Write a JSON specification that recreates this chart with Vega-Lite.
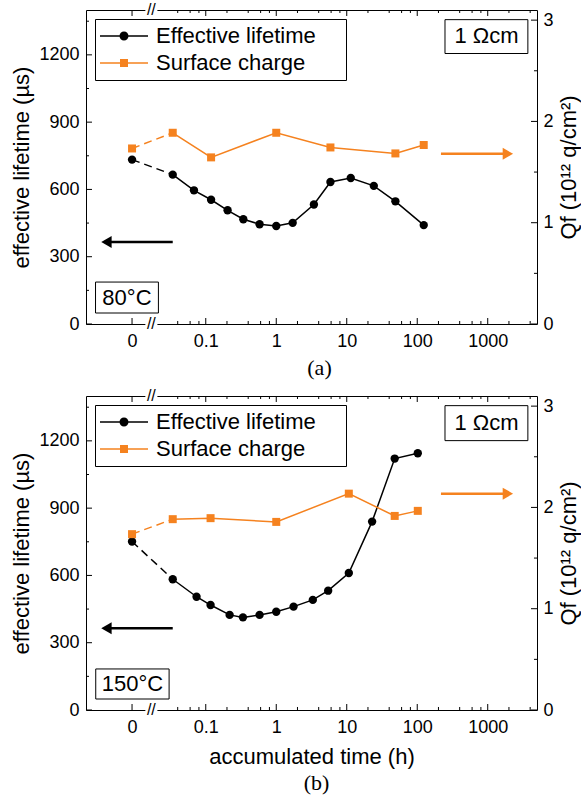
{
  "$schema": "https://vega.github.io/schema/vega-lite/v6.json",
  "padding": {"left": 10, "top": 1, "right": 2, "bottom": 2},
  "datasets": {
    "main": [
      {"panel": "a", "series": "Effective lifetime", "time_h": 0.009, "value": 733},
      {"panel": "a", "series": "Effective lifetime", "time_h": 0.034, "value": 666},
      {"panel": "a", "series": "Effective lifetime", "time_h": 0.068, "value": 596},
      {"panel": "a", "series": "Effective lifetime", "time_h": 0.119, "value": 554},
      {"panel": "a", "series": "Effective lifetime", "time_h": 0.204, "value": 507},
      {"panel": "a", "series": "Effective lifetime", "time_h": 0.341, "value": 467},
      {"panel": "a", "series": "Effective lifetime", "time_h": 0.58, "value": 445},
      {"panel": "a", "series": "Effective lifetime", "time_h": 1.0, "value": 437},
      {"panel": "a", "series": "Effective lifetime", "time_h": 1.71, "value": 451},
      {"panel": "a", "series": "Effective lifetime", "time_h": 3.42, "value": 533},
      {"panel": "a", "series": "Effective lifetime", "time_h": 5.87, "value": 633},
      {"panel": "a", "series": "Effective lifetime", "time_h": 11.4, "value": 651},
      {"panel": "a", "series": "Effective lifetime", "time_h": 24.2, "value": 616},
      {"panel": "a", "series": "Effective lifetime", "time_h": 49, "value": 547},
      {"panel": "a", "series": "Effective lifetime", "time_h": 123.6, "value": 441},
      {"panel": "a", "series": "Surface charge", "time_h": 0.009, "value": 1.733},
      {"panel": "a", "series": "Surface charge", "time_h": 0.034, "value": 1.888},
      {"panel": "a", "series": "Surface charge", "time_h": 0.119, "value": 1.645},
      {"panel": "a", "series": "Surface charge", "time_h": 1.0, "value": 1.888},
      {"panel": "a", "series": "Surface charge", "time_h": 5.87, "value": 1.743},
      {"panel": "a", "series": "Surface charge", "time_h": 49, "value": 1.684},
      {"panel": "a", "series": "Surface charge", "time_h": 123.6, "value": 1.767},
      {"panel": "b", "series": "Effective lifetime", "time_h": 0.009, "value": 751},
      {"panel": "b", "series": "Effective lifetime", "time_h": 0.034, "value": 583},
      {"panel": "b", "series": "Effective lifetime", "time_h": 0.074, "value": 505},
      {"panel": "b", "series": "Effective lifetime", "time_h": 0.117, "value": 468},
      {"panel": "b", "series": "Effective lifetime", "time_h": 0.218, "value": 424},
      {"panel": "b", "series": "Effective lifetime", "time_h": 0.337, "value": 413},
      {"panel": "b", "series": "Effective lifetime", "time_h": 0.58, "value": 424},
      {"panel": "b", "series": "Effective lifetime", "time_h": 1.0, "value": 438},
      {"panel": "b", "series": "Effective lifetime", "time_h": 1.76, "value": 461},
      {"panel": "b", "series": "Effective lifetime", "time_h": 3.3, "value": 491},
      {"panel": "b", "series": "Effective lifetime", "time_h": 5.45, "value": 532},
      {"panel": "b", "series": "Effective lifetime", "time_h": 10.7, "value": 611},
      {"panel": "b", "series": "Effective lifetime", "time_h": 22.9, "value": 840},
      {"panel": "b", "series": "Effective lifetime", "time_h": 47.9, "value": 1121},
      {"panel": "b", "series": "Effective lifetime", "time_h": 101.8, "value": 1145},
      {"panel": "b", "series": "Surface charge", "time_h": 0.009, "value": 1.736},
      {"panel": "b", "series": "Surface charge", "time_h": 0.034, "value": 1.884},
      {"panel": "b", "series": "Surface charge", "time_h": 0.117, "value": 1.894},
      {"panel": "b", "series": "Surface charge", "time_h": 1.0, "value": 1.857},
      {"panel": "b", "series": "Surface charge", "time_h": 10.7, "value": 2.136},
      {"panel": "b", "series": "Surface charge", "time_h": 47.9, "value": 1.916},
      {"panel": "b", "series": "Surface charge", "time_h": 101.8, "value": 1.966}
    ],
    "notes": [
      {"panel": "a", "kind": "resistivity", "text": "1 Ωcm"},
      {"panel": "a", "kind": "temperature", "text": "80°C"},
      {"panel": "a", "kind": "break", "text": "//"},
      {"panel": "a", "kind": "lifetime axis", "text": "left axis"},
      {"panel": "a", "kind": "charge axis", "text": "right axis"},
      {"panel": "b", "kind": "resistivity", "text": "1 Ωcm"},
      {"panel": "b", "kind": "temperature", "text": "150°C"},
      {"panel": "b", "kind": "break", "text": "//"},
      {"panel": "b", "kind": "lifetime axis", "text": "left axis"},
      {"panel": "b", "kind": "charge axis", "text": "right axis"}
    ],
    "tickmarks": [
      {"scale_of": "time", "size": "major", "pos": 0.009},
      {"scale_of": "time", "size": "major", "pos": 0.1},
      {"scale_of": "time", "size": "major", "pos": 1},
      {"scale_of": "time", "size": "major", "pos": 10},
      {"scale_of": "time", "size": "major", "pos": 100},
      {"scale_of": "time", "size": "major", "pos": 1000},
      {"scale_of": "time", "size": "minor", "pos": 0.04},
      {"scale_of": "time", "size": "minor", "pos": 0.06},
      {"scale_of": "time", "size": "minor", "pos": 0.08},
      {"scale_of": "time", "size": "minor", "pos": 0.2},
      {"scale_of": "time", "size": "minor", "pos": 0.4},
      {"scale_of": "time", "size": "minor", "pos": 0.6},
      {"scale_of": "time", "size": "minor", "pos": 0.8},
      {"scale_of": "time", "size": "minor", "pos": 2},
      {"scale_of": "time", "size": "minor", "pos": 4},
      {"scale_of": "time", "size": "minor", "pos": 6},
      {"scale_of": "time", "size": "minor", "pos": 8},
      {"scale_of": "time", "size": "minor", "pos": 20},
      {"scale_of": "time", "size": "minor", "pos": 40},
      {"scale_of": "time", "size": "minor", "pos": 60},
      {"scale_of": "time", "size": "minor", "pos": 80},
      {"scale_of": "time", "size": "minor", "pos": 200},
      {"scale_of": "time", "size": "minor", "pos": 400},
      {"scale_of": "time", "size": "minor", "pos": 600},
      {"scale_of": "time", "size": "minor", "pos": 800},
      {"scale_of": "time", "size": "minor", "pos": 2000},
      {"scale_of": "time", "size": "minor", "pos": 4000},
      {"scale_of": "lifetime", "size": "major", "pos": 0},
      {"scale_of": "lifetime", "size": "major", "pos": 300},
      {"scale_of": "lifetime", "size": "major", "pos": 600},
      {"scale_of": "lifetime", "size": "major", "pos": 900},
      {"scale_of": "lifetime", "size": "major", "pos": 1200},
      {"scale_of": "lifetime", "size": "minor", "pos": 150},
      {"scale_of": "lifetime", "size": "minor", "pos": 450},
      {"scale_of": "lifetime", "size": "minor", "pos": 750},
      {"scale_of": "lifetime", "size": "minor", "pos": 1050},
      {"scale_of": "lifetime", "size": "minor", "pos": 1350},
      {"scale_of": "charge", "size": "major", "pos": 0},
      {"scale_of": "charge", "size": "major", "pos": 1},
      {"scale_of": "charge", "size": "major", "pos": 2},
      {"scale_of": "charge", "size": "major", "pos": 3},
      {"scale_of": "charge", "size": "minor", "pos": 0.5},
      {"scale_of": "charge", "size": "minor", "pos": 1.5},
      {"scale_of": "charge", "size": "minor", "pos": 2.5}
    ]
  },
  "data": {"name": "main"},
  "spacing": 7,
  "resolve": {"scale": {"color": "independent", "shape": "independent"}},
  "vconcat": [
    {
      "width": 451,
      "height": 314,
      "title": {"text": "(a)", "orient": "bottom", "anchor": "middle", "frame": "group", "font": "Liberation Serif", "fontSize": 22, "fontWeight": "normal", "color": "black", "offset": 8, "dx": 8},
      "resolve": {"scale": {"y": "independent"}, "axis": {"x": "independent"}},
      "layer": [
        {"transform": [{"filter": "datum.panel == 'a' && datum.series == 'Effective lifetime' && datum.time_h <= 0.034"}],
          "mark": {"type": "line", "color": "black", "strokeWidth": 1.5, "strokeDash": [8, 5]},
          "encoding": {
            "x": {"field": "time_h", "type": "quantitative", "scale": {"type": "log", "domain": [0.002, 5000], "nice": false}, "axis": null},
            "y": {"field": "value", "type": "quantitative", "scale": {"domain": [0, 1400], "nice": false}, "axis": null}}},
        {"transform": [{"filter": "datum.panel == 'a' && datum.series == 'Effective lifetime' && datum.time_h >= 0.034"}],
          "mark": {"type": "line", "color": "black", "strokeWidth": 1.5},
          "encoding": {
            "x": {"field": "time_h", "type": "quantitative", "scale": {"type": "log", "domain": [0.002, 5000], "nice": false}, "axis": null},
            "y": {"field": "value", "type": "quantitative", "scale": {"domain": [0, 1400], "nice": false}, "axis": null}}},
        {"transform": [{"filter": "datum.panel == 'a' && datum.series == 'Effective lifetime'"}],
          "mark": {"type": "point", "shape": "circle", "filled": true, "color": "black", "size": 70, "opacity": 1},
          "encoding": {
            "x": {"field": "time_h", "type": "quantitative", "scale": {"type": "log", "domain": [0.002, 5000], "nice": false},
              "axis": {"orient": "bottom", "title": null, "domain": false, "ticks": false, "labelPadding": 8,
                "values": [0.009, 0.1, 1, 10, 100, 1000],
                "labelExpr": "datum.value == 0.009 ? '0' : '' + datum.value"}},
            "y": {"field": "value", "type": "quantitative", "scale": {"domain": [0, 1400], "nice": false},
              "axis": {"orient": "left", "title": "effective lifetime (µs)", "domain": false, "ticks": false, "labelPadding": 7, "titlePadding": 5,
                "values": [0, 300, 600, 900, 1200],
                "labelExpr": "'' + datum.value"}}}},
        {"transform": [{"filter": "datum.panel == 'a' && datum.series == 'Surface charge' && datum.time_h <= 0.034"}],
          "mark": {"type": "line", "color": "#F5821F", "strokeWidth": 1.5, "strokeDash": [8, 5]},
          "encoding": {
            "x": {"field": "time_h", "type": "quantitative", "scale": {"type": "log", "domain": [0.002, 5000], "nice": false}, "axis": null},
            "y": {"field": "value", "type": "quantitative", "scale": {"domain": [0, 3.1], "nice": false}, "axis": null}}},
        {"transform": [{"filter": "datum.panel == 'a' && datum.series == 'Surface charge' && datum.time_h >= 0.034"}],
          "mark": {"type": "line", "color": "#F5821F", "strokeWidth": 1.5},
          "encoding": {
            "x": {"field": "time_h", "type": "quantitative", "scale": {"type": "log", "domain": [0.002, 5000], "nice": false}, "axis": null},
            "y": {"field": "value", "type": "quantitative", "scale": {"domain": [0, 3.1], "nice": false}, "axis": null}}},
        {"transform": [{"filter": "datum.panel == 'a' && datum.series == 'Surface charge'"}],
          "mark": {"type": "point", "shape": "square", "filled": true, "color": "#F5821F", "size": 64, "opacity": 1},
          "encoding": {
            "x": {"field": "time_h", "type": "quantitative", "scale": {"type": "log", "domain": [0.002, 5000], "nice": false}, "axis": null},
            "y": {"field": "value", "type": "quantitative", "scale": {"domain": [0, 3.1], "nice": false},
              "axis": {"orient": "right", "title": "Qf (10¹² q/cm²)", "titleAngle": 270, "titleBaseline": "top", "domain": false, "ticks": false, "labelPadding": 6, "titlePadding": 5,
                "values": [0, 1, 2, 3],
                "labelExpr": "'' + datum.value"}}}},
        {"transform": [{"filter": "false"}],
          "mark": {"type": "point", "filled": true, "opacity": 1},
          "encoding": {
            "x": {"field": "time_h", "type": "quantitative", "scale": {"type": "log", "domain": [0.002, 5000], "nice": false}, "axis": null},
            "y": {"field": "value", "type": "quantitative", "scale": {"domain": [0, 1400], "nice": false}, "axis": null},
            "color": {"field": "series", "type": "nominal", "scale": {"domain": ["Effective lifetime", "Surface charge"], "range": ["black", "#F5821F"]},
              "legend": {"title": ".", "titleOrient": "right", "titleColor": "white", "titleFontSize": 2, "titlePadding": 23}},
            "shape": {"field": "series", "type": "nominal", "scale": {"domain": ["Effective lifetime", "Surface charge"], "range": [
              "M-4.8,-0.15L-0.85,-0.15L-0.85,0.15L-4.8,0.15Z M0.85,-0.15L4.8,-0.15L4.8,0.15L0.85,0.15Z M-0.9,0A0.9,0.9,0,1,1,0.9,0A0.9,0.9,0,1,1,-0.9,0Z",
              "M-4.8,-0.15L-0.8,-0.15L-0.8,0.15L-4.8,0.15Z M0.8,-0.15L4.8,-0.15L4.8,0.15L0.8,0.15Z M-0.8,-0.8L0.8,-0.8L0.8,0.8L-0.8,0.8Z"]},
              "legend": {"title": ".", "titleOrient": "right", "titleColor": "white", "titleFontSize": 2, "titlePadding": 23}}}},
        {"data": {"name": "notes"}, "transform": [{"filter": "datum.panel == 'a' && datum.kind == 'break'"}],
          "mark": {"type": "rect", "color": "white"},
          "encoding": {
            "x": {"datum": 0.0139, "type": "quantitative", "scale": {"type": "log", "domain": [0.002, 5000], "nice": false}, "axis": null}, "x2": {"datum": 0.0206},
            "y": {"datum": -12, "type": "quantitative", "scale": {"domain": [0, 1400], "nice": false}, "axis": null}, "y2": {"datum": 12}}},
        {"data": {"name": "notes"}, "transform": [{"filter": "datum.panel == 'a' && datum.kind == 'break'"}],
          "mark": {"type": "rect", "color": "white"},
          "encoding": {
            "x": {"datum": 0.0139, "type": "quantitative", "scale": {"type": "log", "domain": [0.002, 5000], "nice": false}, "axis": null}, "x2": {"datum": 0.0206},
            "y": {"datum": 1388, "type": "quantitative", "scale": {"domain": [0, 1400], "nice": false}, "axis": null}, "y2": {"datum": 1412}}},
        {"data": {"name": "notes"}, "transform": [{"filter": "datum.panel == 'a' && datum.kind == 'break'"}],
          "mark": {"type": "text", "fontSize": 16, "align": "center", "baseline": "middle"},
          "encoding": {
            "x": {"datum": 0.0169, "type": "quantitative", "scale": {"type": "log", "domain": [0.002, 5000], "nice": false}, "axis": null},
            "y": {"datum": 0, "type": "quantitative", "scale": {"domain": [0, 1400], "nice": false}, "axis": null},
            "text": {"field": "text", "type": "nominal"}}},
        {"data": {"name": "notes"}, "transform": [{"filter": "datum.panel == 'a' && datum.kind == 'break'"}],
          "mark": {"type": "text", "fontSize": 16, "align": "center", "baseline": "middle"},
          "encoding": {
            "x": {"datum": 0.0169, "type": "quantitative", "scale": {"type": "log", "domain": [0.002, 5000], "nice": false}, "axis": null},
            "y": {"datum": 1400, "type": "quantitative", "scale": {"domain": [0, 1400], "nice": false}, "axis": null},
            "text": {"field": "text", "type": "nominal"}}},
        {"data": {"name": "notes"}, "transform": [{"filter": "datum.panel == 'a' && datum.kind == 'resistivity'"}],
          "mark": {"type": "rect", "fill": "white", "stroke": "black", "strokeWidth": 1},
          "encoding": {
            "x": {"datum": 247.6, "type": "quantitative", "scale": {"type": "log", "domain": [0.002, 5000], "nice": false}, "axis": null}, "x2": {"datum": 3710},
            "y": {"datum": 1206, "type": "quantitative", "scale": {"domain": [0, 1400], "nice": false}, "axis": null}, "y2": {"datum": 1357}}},
        {"data": {"name": "notes"}, "transform": [{"filter": "datum.panel == 'a' && datum.kind == 'resistivity'"}],
          "mark": {"type": "text", "fontSize": 22, "align": "center", "baseline": "middle"},
          "encoding": {
            "x": {"datum": 959, "type": "quantitative", "scale": {"type": "log", "domain": [0.002, 5000], "nice": false}, "axis": null},
            "y": {"datum": 1282, "type": "quantitative", "scale": {"domain": [0, 1400], "nice": false}, "axis": null},
            "text": {"field": "text", "type": "nominal"}}},
        {"data": {"name": "notes"}, "transform": [{"filter": "datum.panel == 'a' && datum.kind == 'temperature'"}],
          "mark": {"type": "rect", "fill": "white", "stroke": "black", "strokeWidth": 1},
          "encoding": {
            "x": {"datum": 0.00273, "type": "quantitative", "scale": {"type": "log", "domain": [0.002, 5000], "nice": false}, "axis": null}, "x2": {"datum": 0.0213},
            "y": {"datum": 49, "type": "quantitative", "scale": {"domain": [0, 1400], "nice": false}, "axis": null}, "y2": {"datum": 187}}},
        {"data": {"name": "notes"}, "transform": [{"filter": "datum.panel == 'a' && datum.kind == 'temperature'"}],
          "mark": {"type": "text", "fontSize": 22, "align": "center", "baseline": "middle"},
          "encoding": {
            "x": {"datum": 0.00762, "type": "quantitative", "scale": {"type": "log", "domain": [0.002, 5000], "nice": false}, "axis": null},
            "y": {"datum": 118, "type": "quantitative", "scale": {"domain": [0, 1400], "nice": false}, "axis": null},
            "text": {"field": "text", "type": "nominal"}}},
        {"data": {"name": "notes"}, "transform": [{"filter": "datum.panel == 'a' && datum.kind == 'lifetime axis'"}],
          "mark": {"type": "rule", "color": "black", "strokeWidth": 2.5},
          "encoding": {
            "x": {"datum": 0.0045, "type": "quantitative", "scale": {"type": "log", "domain": [0.002, 5000], "nice": false}, "axis": null}, "x2": {"datum": 0.034},
            "y": {"datum": 366, "type": "quantitative", "scale": {"domain": [0, 1400], "nice": false}, "axis": null}}},
        {"data": {"name": "notes"}, "transform": [{"filter": "datum.panel == 'a' && datum.kind == 'lifetime axis'"}],
          "mark": {"type": "point", "shape": "triangle-left", "filled": true, "color": "black", "size": 144, "opacity": 1},
          "encoding": {
            "x": {"datum": 0.0039, "type": "quantitative", "scale": {"type": "log", "domain": [0.002, 5000], "nice": false}, "axis": null},
            "y": {"datum": 366, "type": "quantitative", "scale": {"domain": [0, 1400], "nice": false}, "axis": null}}},
        {"data": {"name": "notes"}, "transform": [{"filter": "datum.panel == 'a' && datum.kind == 'charge axis'"}],
          "mark": {"type": "rule", "color": "#F5821F", "strokeWidth": 2.5},
          "encoding": {
            "x": {"datum": 217, "type": "quantitative", "scale": {"type": "log", "domain": [0.002, 5000], "nice": false}, "axis": null}, "x2": {"datum": 1760},
            "y": {"datum": 1.68, "type": "quantitative", "scale": {"domain": [0, 3.1], "nice": false}, "axis": null}}},
        {"data": {"name": "notes"}, "transform": [{"filter": "datum.panel == 'a' && datum.kind == 'charge axis'"}],
          "mark": {"type": "point", "shape": "triangle-right", "filled": true, "color": "#F5821F", "size": 144, "opacity": 1},
          "encoding": {
            "x": {"datum": 1932, "type": "quantitative", "scale": {"type": "log", "domain": [0.002, 5000], "nice": false}, "axis": null},
            "y": {"datum": 1.68, "type": "quantitative", "scale": {"domain": [0, 3.1], "nice": false}, "axis": null}}},
        {"data": {"name": "tickmarks"}, "transform": [{"filter": "datum.scale_of == 'time' && datum.size == 'major'"}],
          "mark": {"type": "rule", "color": "black", "strokeWidth": 1},
          "encoding": {
            "x": {"field": "pos", "type": "quantitative", "scale": {"type": "log", "domain": [0.002, 5000], "nice": false}, "axis": null},
            "y": {"datum": 0, "type": "quantitative", "scale": {"domain": [0, 1400], "nice": false}, "axis": null}, "y2": {"datum": 26.7}}},
        {"data": {"name": "tickmarks"}, "transform": [{"filter": "datum.scale_of == 'time' && datum.size == 'minor'"}],
          "mark": {"type": "rule", "color": "black", "strokeWidth": 1},
          "encoding": {
            "x": {"field": "pos", "type": "quantitative", "scale": {"type": "log", "domain": [0.002, 5000], "nice": false}, "axis": null},
            "y": {"datum": 0, "type": "quantitative", "scale": {"domain": [0, 1400], "nice": false}, "axis": null}, "y2": {"datum": 13.4}}},
        {"data": {"name": "tickmarks"}, "transform": [{"filter": "datum.scale_of == 'time' && datum.size == 'major'"}],
          "mark": {"type": "rule", "color": "black", "strokeWidth": 1},
          "encoding": {
            "x": {"field": "pos", "type": "quantitative", "scale": {"type": "log", "domain": [0.002, 5000], "nice": false}, "axis": null},
            "y": {"datum": 1400, "type": "quantitative", "scale": {"domain": [0, 1400], "nice": false}, "axis": null}, "y2": {"datum": 1373.3}}},
        {"data": {"name": "tickmarks"}, "transform": [{"filter": "datum.scale_of == 'time' && datum.size == 'minor'"}],
          "mark": {"type": "rule", "color": "black", "strokeWidth": 1},
          "encoding": {
            "x": {"field": "pos", "type": "quantitative", "scale": {"type": "log", "domain": [0.002, 5000], "nice": false}, "axis": null},
            "y": {"datum": 1400, "type": "quantitative", "scale": {"domain": [0, 1400], "nice": false}, "axis": null}, "y2": {"datum": 1386.6}}},
        {"data": {"name": "tickmarks"}, "transform": [{"filter": "datum.scale_of == 'lifetime' && datum.size == 'major'"}],
          "mark": {"type": "rule", "color": "black", "strokeWidth": 1},
          "encoding": {
            "y": {"field": "pos", "type": "quantitative", "scale": {"domain": [0, 1400], "nice": false}, "axis": null},
            "x": {"datum": 0.002, "type": "quantitative", "scale": {"type": "log", "domain": [0.002, 5000], "nice": false}, "axis": null}, "x2": {"datum": 0.002433}}},
        {"data": {"name": "tickmarks"}, "transform": [{"filter": "datum.scale_of == 'lifetime' && datum.size == 'minor'"}],
          "mark": {"type": "rule", "color": "black", "strokeWidth": 1},
          "encoding": {
            "y": {"field": "pos", "type": "quantitative", "scale": {"domain": [0, 1400], "nice": false}, "axis": null},
            "x": {"datum": 0.002, "type": "quantitative", "scale": {"type": "log", "domain": [0.002, 5000], "nice": false}, "axis": null}, "x2": {"datum": 0.002206}}},
        {"data": {"name": "tickmarks"}, "transform": [{"filter": "datum.scale_of == 'charge' && datum.size == 'major'"}],
          "mark": {"type": "rule", "color": "black", "strokeWidth": 1},
          "encoding": {
            "y": {"field": "pos", "type": "quantitative", "scale": {"domain": [0, 3.1], "nice": false}, "axis": null},
            "x": {"datum": 5000, "type": "quantitative", "scale": {"type": "log", "domain": [0.002, 5000], "nice": false}, "axis": null}, "x2": {"datum": 4111}}},
        {"data": {"name": "tickmarks"}, "transform": [{"filter": "datum.scale_of == 'charge' && datum.size == 'minor'"}],
          "mark": {"type": "rule", "color": "black", "strokeWidth": 1},
          "encoding": {
            "y": {"field": "pos", "type": "quantitative", "scale": {"domain": [0, 3.1], "nice": false}, "axis": null},
            "x": {"datum": 5000, "type": "quantitative", "scale": {"type": "log", "domain": [0.002, 5000], "nice": false}, "axis": null}, "x2": {"datum": 4533}}}
      ]
    },
    {
      "width": 451,
      "height": 314,
      "title": {"text": "(b)", "orient": "bottom", "anchor": "middle", "frame": "group", "font": "Liberation Serif", "fontSize": 22, "fontWeight": "normal", "color": "black", "offset": 6, "dx": 5},
      "resolve": {"scale": {"y": "independent"}, "axis": {"x": "independent"}},
      "layer": [
        {"transform": [{"filter": "datum.panel == 'b' && datum.series == 'Effective lifetime' && datum.time_h <= 0.034"}],
          "mark": {"type": "line", "color": "black", "strokeWidth": 1.5, "strokeDash": [8, 5]},
          "encoding": {
            "x": {"field": "time_h", "type": "quantitative", "scale": {"type": "log", "domain": [0.002, 5000], "nice": false}, "axis": null},
            "y": {"field": "value", "type": "quantitative", "scale": {"domain": [0, 1400], "nice": false}, "axis": null}}},
        {"transform": [{"filter": "datum.panel == 'b' && datum.series == 'Effective lifetime' && datum.time_h >= 0.034"}],
          "mark": {"type": "line", "color": "black", "strokeWidth": 1.5},
          "encoding": {
            "x": {"field": "time_h", "type": "quantitative", "scale": {"type": "log", "domain": [0.002, 5000], "nice": false}, "axis": null},
            "y": {"field": "value", "type": "quantitative", "scale": {"domain": [0, 1400], "nice": false}, "axis": null}}},
        {"transform": [{"filter": "datum.panel == 'b' && datum.series == 'Effective lifetime'"}],
          "mark": {"type": "point", "shape": "circle", "filled": true, "color": "black", "size": 70, "opacity": 1},
          "encoding": {
            "x": {"field": "time_h", "type": "quantitative", "scale": {"type": "log", "domain": [0.002, 5000], "nice": false},
              "axis": {"orient": "bottom", "title": "accumulated time (h)", "titlePadding": 10, "domain": false, "ticks": false, "labelPadding": 8,
                "values": [0.009, 0.1, 1, 10, 100, 1000],
                "labelExpr": "datum.value == 0.009 ? '0' : '' + datum.value"}},
            "y": {"field": "value", "type": "quantitative", "scale": {"domain": [0, 1400], "nice": false},
              "axis": {"orient": "left", "title": "effective lifetime (µs)", "domain": false, "ticks": false, "labelPadding": 7, "titlePadding": 5,
                "values": [0, 300, 600, 900, 1200],
                "labelExpr": "'' + datum.value"}}}},
        {"transform": [{"filter": "datum.panel == 'b' && datum.series == 'Surface charge' && datum.time_h <= 0.034"}],
          "mark": {"type": "line", "color": "#F5821F", "strokeWidth": 1.5, "strokeDash": [8, 5]},
          "encoding": {
            "x": {"field": "time_h", "type": "quantitative", "scale": {"type": "log", "domain": [0.002, 5000], "nice": false}, "axis": null},
            "y": {"field": "value", "type": "quantitative", "scale": {"domain": [0, 3.1], "nice": false}, "axis": null}}},
        {"transform": [{"filter": "datum.panel == 'b' && datum.series == 'Surface charge' && datum.time_h >= 0.034"}],
          "mark": {"type": "line", "color": "#F5821F", "strokeWidth": 1.5},
          "encoding": {
            "x": {"field": "time_h", "type": "quantitative", "scale": {"type": "log", "domain": [0.002, 5000], "nice": false}, "axis": null},
            "y": {"field": "value", "type": "quantitative", "scale": {"domain": [0, 3.1], "nice": false}, "axis": null}}},
        {"transform": [{"filter": "datum.panel == 'b' && datum.series == 'Surface charge'"}],
          "mark": {"type": "point", "shape": "square", "filled": true, "color": "#F5821F", "size": 64, "opacity": 1},
          "encoding": {
            "x": {"field": "time_h", "type": "quantitative", "scale": {"type": "log", "domain": [0.002, 5000], "nice": false}, "axis": null},
            "y": {"field": "value", "type": "quantitative", "scale": {"domain": [0, 3.1], "nice": false},
              "axis": {"orient": "right", "title": "Qf (10¹² q/cm²)", "titleAngle": 270, "titleBaseline": "top", "domain": false, "ticks": false, "labelPadding": 6, "titlePadding": 5,
                "values": [0, 1, 2, 3],
                "labelExpr": "'' + datum.value"}}}},
        {"transform": [{"filter": "false"}],
          "mark": {"type": "point", "filled": true, "opacity": 1},
          "encoding": {
            "x": {"field": "time_h", "type": "quantitative", "scale": {"type": "log", "domain": [0.002, 5000], "nice": false}, "axis": null},
            "y": {"field": "value", "type": "quantitative", "scale": {"domain": [0, 1400], "nice": false}, "axis": null},
            "color": {"field": "series", "type": "nominal", "scale": {"domain": ["Effective lifetime", "Surface charge"], "range": ["black", "#F5821F"]},
              "legend": {"title": ".", "titleOrient": "right", "titleColor": "white", "titleFontSize": 2, "titlePadding": 23}},
            "shape": {"field": "series", "type": "nominal", "scale": {"domain": ["Effective lifetime", "Surface charge"], "range": [
              "M-4.8,-0.15L-0.85,-0.15L-0.85,0.15L-4.8,0.15Z M0.85,-0.15L4.8,-0.15L4.8,0.15L0.85,0.15Z M-0.9,0A0.9,0.9,0,1,1,0.9,0A0.9,0.9,0,1,1,-0.9,0Z",
              "M-4.8,-0.15L-0.8,-0.15L-0.8,0.15L-4.8,0.15Z M0.8,-0.15L4.8,-0.15L4.8,0.15L0.8,0.15Z M-0.8,-0.8L0.8,-0.8L0.8,0.8L-0.8,0.8Z"]},
              "legend": {"title": ".", "titleOrient": "right", "titleColor": "white", "titleFontSize": 2, "titlePadding": 23}}}},
        {"data": {"name": "notes"}, "transform": [{"filter": "datum.panel == 'b' && datum.kind == 'break'"}],
          "mark": {"type": "rect", "color": "white"},
          "encoding": {
            "x": {"datum": 0.0139, "type": "quantitative", "scale": {"type": "log", "domain": [0.002, 5000], "nice": false}, "axis": null}, "x2": {"datum": 0.0206},
            "y": {"datum": -12, "type": "quantitative", "scale": {"domain": [0, 1400], "nice": false}, "axis": null}, "y2": {"datum": 12}}},
        {"data": {"name": "notes"}, "transform": [{"filter": "datum.panel == 'b' && datum.kind == 'break'"}],
          "mark": {"type": "rect", "color": "white"},
          "encoding": {
            "x": {"datum": 0.0139, "type": "quantitative", "scale": {"type": "log", "domain": [0.002, 5000], "nice": false}, "axis": null}, "x2": {"datum": 0.0206},
            "y": {"datum": 1388, "type": "quantitative", "scale": {"domain": [0, 1400], "nice": false}, "axis": null}, "y2": {"datum": 1412}}},
        {"data": {"name": "notes"}, "transform": [{"filter": "datum.panel == 'b' && datum.kind == 'break'"}],
          "mark": {"type": "text", "fontSize": 16, "align": "center", "baseline": "middle"},
          "encoding": {
            "x": {"datum": 0.0169, "type": "quantitative", "scale": {"type": "log", "domain": [0.002, 5000], "nice": false}, "axis": null},
            "y": {"datum": 0, "type": "quantitative", "scale": {"domain": [0, 1400], "nice": false}, "axis": null},
            "text": {"field": "text", "type": "nominal"}}},
        {"data": {"name": "notes"}, "transform": [{"filter": "datum.panel == 'b' && datum.kind == 'break'"}],
          "mark": {"type": "text", "fontSize": 16, "align": "center", "baseline": "middle"},
          "encoding": {
            "x": {"datum": 0.0169, "type": "quantitative", "scale": {"type": "log", "domain": [0.002, 5000], "nice": false}, "axis": null},
            "y": {"datum": 1400, "type": "quantitative", "scale": {"domain": [0, 1400], "nice": false}, "axis": null},
            "text": {"field": "text", "type": "nominal"}}},
        {"data": {"name": "notes"}, "transform": [{"filter": "datum.panel == 'b' && datum.kind == 'resistivity'"}],
          "mark": {"type": "rect", "fill": "white", "stroke": "black", "strokeWidth": 1},
          "encoding": {
            "x": {"datum": 247.6, "type": "quantitative", "scale": {"type": "log", "domain": [0.002, 5000], "nice": false}, "axis": null}, "x2": {"datum": 3710},
            "y": {"datum": 1201, "type": "quantitative", "scale": {"domain": [0, 1400], "nice": false}, "axis": null}, "y2": {"datum": 1357}}},
        {"data": {"name": "notes"}, "transform": [{"filter": "datum.panel == 'b' && datum.kind == 'resistivity'"}],
          "mark": {"type": "text", "fontSize": 22, "align": "center", "baseline": "middle"},
          "encoding": {
            "x": {"datum": 959, "type": "quantitative", "scale": {"type": "log", "domain": [0.002, 5000], "nice": false}, "axis": null},
            "y": {"datum": 1279, "type": "quantitative", "scale": {"domain": [0, 1400], "nice": false}, "axis": null},
            "text": {"field": "text", "type": "nominal"}}},
        {"data": {"name": "notes"}, "transform": [{"filter": "datum.panel == 'b' && datum.kind == 'temperature'"}],
          "mark": {"type": "rect", "fill": "white", "stroke": "black", "strokeWidth": 1},
          "encoding": {
            "x": {"datum": 0.00275, "type": "quantitative", "scale": {"type": "log", "domain": [0.002, 5000], "nice": false}, "axis": null}, "x2": {"datum": 0.0302},
            "y": {"datum": 49, "type": "quantitative", "scale": {"domain": [0, 1400], "nice": false}, "axis": null}, "y2": {"datum": 183}}},
        {"data": {"name": "notes"}, "transform": [{"filter": "datum.panel == 'b' && datum.kind == 'temperature'"}],
          "mark": {"type": "text", "fontSize": 22, "align": "center", "baseline": "middle"},
          "encoding": {
            "x": {"datum": 0.00912, "type": "quantitative", "scale": {"type": "log", "domain": [0.002, 5000], "nice": false}, "axis": null},
            "y": {"datum": 116, "type": "quantitative", "scale": {"domain": [0, 1400], "nice": false}, "axis": null},
            "text": {"field": "text", "type": "nominal"}}},
        {"data": {"name": "notes"}, "transform": [{"filter": "datum.panel == 'b' && datum.kind == 'lifetime axis'"}],
          "mark": {"type": "rule", "color": "black", "strokeWidth": 2.5},
          "encoding": {
            "x": {"datum": 0.0045, "type": "quantitative", "scale": {"type": "log", "domain": [0.002, 5000], "nice": false}, "axis": null}, "x2": {"datum": 0.034},
            "y": {"datum": 364, "type": "quantitative", "scale": {"domain": [0, 1400], "nice": false}, "axis": null}}},
        {"data": {"name": "notes"}, "transform": [{"filter": "datum.panel == 'b' && datum.kind == 'lifetime axis'"}],
          "mark": {"type": "point", "shape": "triangle-left", "filled": true, "color": "black", "size": 144, "opacity": 1},
          "encoding": {
            "x": {"datum": 0.0039, "type": "quantitative", "scale": {"type": "log", "domain": [0.002, 5000], "nice": false}, "axis": null},
            "y": {"datum": 364, "type": "quantitative", "scale": {"domain": [0, 1400], "nice": false}, "axis": null}}},
        {"data": {"name": "notes"}, "transform": [{"filter": "datum.panel == 'b' && datum.kind == 'charge axis'"}],
          "mark": {"type": "rule", "color": "#F5821F", "strokeWidth": 2.5},
          "encoding": {
            "x": {"datum": 217, "type": "quantitative", "scale": {"type": "log", "domain": [0.002, 5000], "nice": false}, "axis": null}, "x2": {"datum": 1760},
            "y": {"datum": 2.136, "type": "quantitative", "scale": {"domain": [0, 3.1], "nice": false}, "axis": null}}},
        {"data": {"name": "notes"}, "transform": [{"filter": "datum.panel == 'b' && datum.kind == 'charge axis'"}],
          "mark": {"type": "point", "shape": "triangle-right", "filled": true, "color": "#F5821F", "size": 144, "opacity": 1},
          "encoding": {
            "x": {"datum": 1932, "type": "quantitative", "scale": {"type": "log", "domain": [0.002, 5000], "nice": false}, "axis": null},
            "y": {"datum": 2.136, "type": "quantitative", "scale": {"domain": [0, 3.1], "nice": false}, "axis": null}}},
        {"data": {"name": "tickmarks"}, "transform": [{"filter": "datum.scale_of == 'time' && datum.size == 'major'"}],
          "mark": {"type": "rule", "color": "black", "strokeWidth": 1},
          "encoding": {
            "x": {"field": "pos", "type": "quantitative", "scale": {"type": "log", "domain": [0.002, 5000], "nice": false}, "axis": null},
            "y": {"datum": 0, "type": "quantitative", "scale": {"domain": [0, 1400], "nice": false}, "axis": null}, "y2": {"datum": 26.7}}},
        {"data": {"name": "tickmarks"}, "transform": [{"filter": "datum.scale_of == 'time' && datum.size == 'minor'"}],
          "mark": {"type": "rule", "color": "black", "strokeWidth": 1},
          "encoding": {
            "x": {"field": "pos", "type": "quantitative", "scale": {"type": "log", "domain": [0.002, 5000], "nice": false}, "axis": null},
            "y": {"datum": 0, "type": "quantitative", "scale": {"domain": [0, 1400], "nice": false}, "axis": null}, "y2": {"datum": 13.4}}},
        {"data": {"name": "tickmarks"}, "transform": [{"filter": "datum.scale_of == 'time' && datum.size == 'major'"}],
          "mark": {"type": "rule", "color": "black", "strokeWidth": 1},
          "encoding": {
            "x": {"field": "pos", "type": "quantitative", "scale": {"type": "log", "domain": [0.002, 5000], "nice": false}, "axis": null},
            "y": {"datum": 1400, "type": "quantitative", "scale": {"domain": [0, 1400], "nice": false}, "axis": null}, "y2": {"datum": 1373.3}}},
        {"data": {"name": "tickmarks"}, "transform": [{"filter": "datum.scale_of == 'time' && datum.size == 'minor'"}],
          "mark": {"type": "rule", "color": "black", "strokeWidth": 1},
          "encoding": {
            "x": {"field": "pos", "type": "quantitative", "scale": {"type": "log", "domain": [0.002, 5000], "nice": false}, "axis": null},
            "y": {"datum": 1400, "type": "quantitative", "scale": {"domain": [0, 1400], "nice": false}, "axis": null}, "y2": {"datum": 1386.6}}},
        {"data": {"name": "tickmarks"}, "transform": [{"filter": "datum.scale_of == 'lifetime' && datum.size == 'major'"}],
          "mark": {"type": "rule", "color": "black", "strokeWidth": 1},
          "encoding": {
            "y": {"field": "pos", "type": "quantitative", "scale": {"domain": [0, 1400], "nice": false}, "axis": null},
            "x": {"datum": 0.002, "type": "quantitative", "scale": {"type": "log", "domain": [0.002, 5000], "nice": false}, "axis": null}, "x2": {"datum": 0.002433}}},
        {"data": {"name": "tickmarks"}, "transform": [{"filter": "datum.scale_of == 'lifetime' && datum.size == 'minor'"}],
          "mark": {"type": "rule", "color": "black", "strokeWidth": 1},
          "encoding": {
            "y": {"field": "pos", "type": "quantitative", "scale": {"domain": [0, 1400], "nice": false}, "axis": null},
            "x": {"datum": 0.002, "type": "quantitative", "scale": {"type": "log", "domain": [0.002, 5000], "nice": false}, "axis": null}, "x2": {"datum": 0.002206}}},
        {"data": {"name": "tickmarks"}, "transform": [{"filter": "datum.scale_of == 'charge' && datum.size == 'major'"}],
          "mark": {"type": "rule", "color": "black", "strokeWidth": 1},
          "encoding": {
            "y": {"field": "pos", "type": "quantitative", "scale": {"domain": [0, 3.1], "nice": false}, "axis": null},
            "x": {"datum": 5000, "type": "quantitative", "scale": {"type": "log", "domain": [0.002, 5000], "nice": false}, "axis": null}, "x2": {"datum": 4111}}},
        {"data": {"name": "tickmarks"}, "transform": [{"filter": "datum.scale_of == 'charge' && datum.size == 'minor'"}],
          "mark": {"type": "rule", "color": "black", "strokeWidth": 1},
          "encoding": {
            "y": {"field": "pos", "type": "quantitative", "scale": {"domain": [0, 3.1], "nice": false}, "axis": null},
            "x": {"datum": 5000, "type": "quantitative", "scale": {"type": "log", "domain": [0.002, 5000], "nice": false}, "axis": null}, "x2": {"datum": 4533}}}
      ]
    }
  ],
  "config": {
    "view": {"stroke": "black", "strokeWidth": 1},
    "font": "Liberation Sans",
    "axis": {"labelFont": "Liberation Sans", "titleFont": "Liberation Sans", "labelFontSize": 18, "titleFontSize": 22, "titleFontWeight": "normal", "labelColor": "black", "titleColor": "black", "domainColor": "black", "tickColor": "black", "domainWidth": 1, "tickWidth": 1, "grid": false, "labelFlush": false, "labelOverlap": false},
    "text": {"font": "Liberation Sans", "color": "black"},
    "legend": {"orient": "top-left", "offset": 9, "strokeColor": "black", "fillColor": "white", "padding": 6, "labelFont": "Liberation Sans", "labelFontSize": 22, "labelColor": "black", "symbolOffset": 12, "labelOffset": 21, "rowPadding": 5, "symbolStrokeWidth": 0, "symbolSize": 100}
  }
}
